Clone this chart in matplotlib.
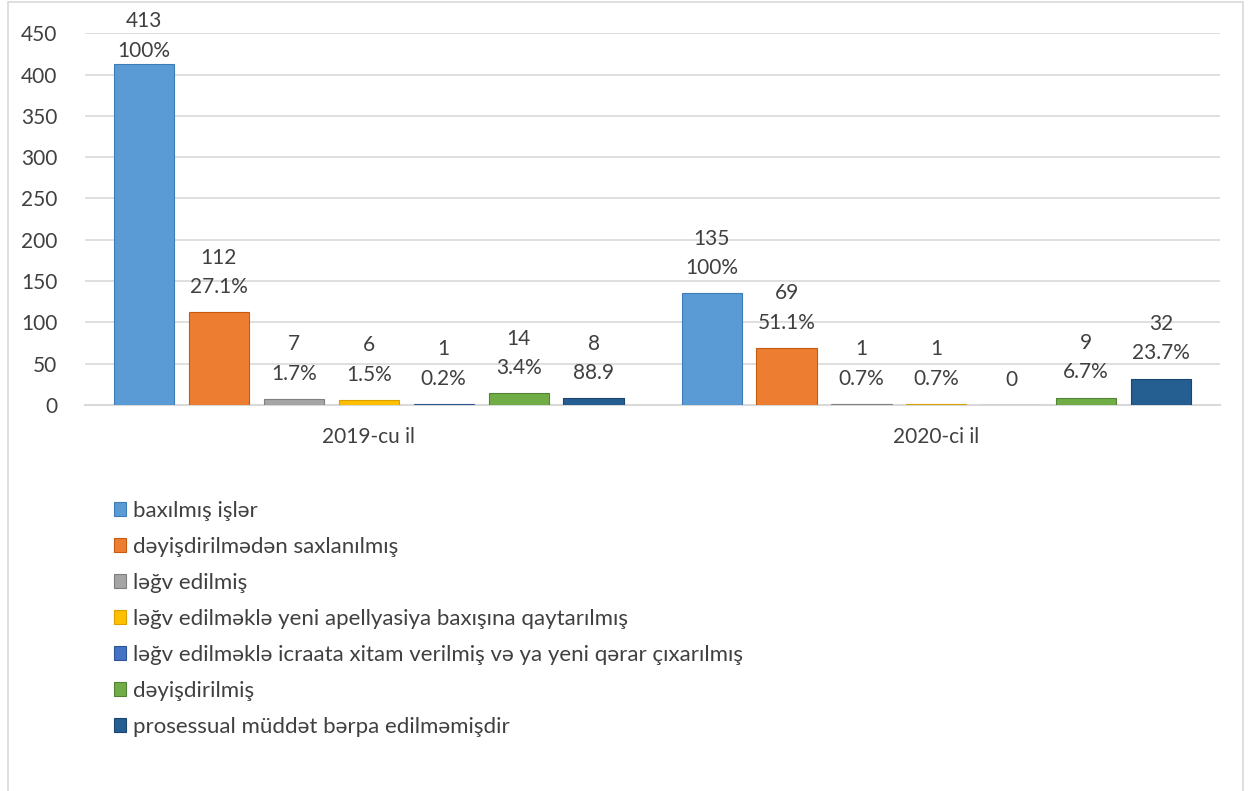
import matplotlib
matplotlib.use("Agg")
from matplotlib import pyplot as plt
from matplotlib.patches import Rectangle
import numpy as np

plt.rcParams['font.family'] = ['Lato', 'DejaVu Sans']

# data
years = ["2019-cu il", "2020-ci il"]
series_names = [
    "baxılmış işlər",
    "dəyişdirilmədən saxlanılmış",
    "ləğv edilmiş",
    "ləğv edilməklə yeni apellyasiya baxışına qaytarılmış",
    "ləğv edilməklə icraata xitam verilmiş və ya yeni qərar çıxarılmış",
    "dəyişdirilmiş",
    "prosessual müddət bərpa edilməmişdir",
]
values_2019 = [413, 112, 7, 6, 1, 14, 8]
values_2020 = [135, 69, 1, 1, 0, 9, 32]
pct_2019 = ["100%", "27.1%", "1.7%", "1.5%", "0.2%", "3.4%", "88.9"]
pct_2020 = ["100%", "51.1%", "0.7%", "0.7%", "", "6.7%", "23.7%"]

colors = ["#5B9BD5", "#ED7D31", "#A5A5A5", "#FFC000", "#4472C4", "#70AD47", "#255E91"]
edges = ["#3E7CB8", "#C55A11", "#7F7F7F", "#D9A000", "#2F5597", "#548235", "#1A4570"]

fig = plt.figure(figsize=(12.53, 7.91), dpi=100)
ax = fig.add_axes([0.0678, 0.488, 0.906, 0.470])

x = np.arange(len(years))
step = 0.132
width = 0.106
for i, name in enumerate(series_names):
    vals = [values_2019[i], values_2020[i]]
    pcts = [pct_2019[i], pct_2020[i]]
    pos = x + (i - 3) * step
    ax.bar(pos, vals, width=width, color=colors[i], edgecolor=edges[i],
           linewidth=0.8, label=name, zorder=3)
    for px, v, p in zip(pos, vals, pcts):
        txt = f"{v}\n{p}" if p else f"{v}"
        # tall bars leave less room above them, like Excel does
        off = 2 if v > 380 else 11
        ax.annotate(txt, (px, v), xytext=(0, off), textcoords="offset points",
                    ha="center", va="bottom", fontsize=15, color="#404040",
                    linespacing=1.6)

ax.set_xlim(-0.5, 1.5)
ax.set_ylim(0, 450)
ax.set_yticks(range(0, 451, 50))
ax.set_xticks(x)
ax.set_xticklabels(years)
ax.tick_params(axis="both", length=0, labelsize=15, labelcolor="#404040")
ax.tick_params(axis="x", pad=16)
ax.tick_params(axis="y", pad=20)
ax.grid(axis="y", color="#D9D9D9", linewidth=1.2, zorder=0)
for s in ["top", "right", "left"]:
    ax.spines[s].set_visible(False)
ax.spines["bottom"].set_color("#D9D9D9")
ax.spines["bottom"].set_linewidth(1.5)

fig.legend(loc="upper left", bbox_to_anchor=(0.084, 0.378), frameon=False,
           fontsize=16, labelcolor="#404040", handlelength=0.55,
           handleheight=0.55, handletextpad=0.3, labelspacing=0.72,
           borderaxespad=0)

fig.patches.append(Rectangle((0.006, -0.01), 0.986, 1.008, transform=fig.transFigure,
                             fill=False, edgecolor="#D9D9D9", linewidth=1.2))

fig.savefig("out.png", dpi=100)
